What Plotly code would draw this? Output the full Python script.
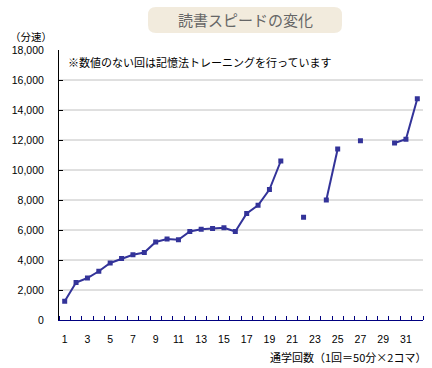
import plotly.graph_objects as go

sessions = list(range(1, 33))
speed = [1250, 2500, 2800, 3250, 3800, 4100, 4350, 4500, 5200, 5400,
         5350, 5900, 6050, 6100, 6150, 5900, 7100, 7650, 8700, 10600,
         None, 6850, None, 8000, 11400, None, 11950, None, None, 11800,
         12050, 14750]
y_ticks = list(range(0, 18001, 2000))
y_ticktext = ["0" if v == 0 else f"{v:,}" for v in y_ticks]
x_ticks = list(range(1, 32, 2))

W, H = 432, 368
L, R, T, B = 59, 9, 50, 48
pw, ph = W - L - R, H - T - B

def px(x):
    return (x - L) / pw

def py(y):
    return (H - B - y) / ph

fig = go.Figure()
fig.add_trace(go.Scatter(
    x=sessions, y=speed, mode="lines+markers", connectgaps=False,
    line=dict(color="#333399", width=2),
    marker=dict(symbol="square", size=5, color="#333399"),
    hoverinfo="x+y", showlegend=False))

shapes = []
for v in y_ticks[1:-1]:
    shapes.append(dict(type="line", xref="paper", yref="y", x0=0, x1=1, y0=v, y1=v,
                       line=dict(color="#c0c0c0", width=1), layer="below"))

# rounded title box
x0, x1, y0, y1 = 148, 342, 7, 33
r = 8
path = (f"M {px(x0 + r)},{py(y0)} L {px(x1 - r)},{py(y0)} Q {px(x1)},{py(y0)} {px(x1)},{py(y0 + r)} "
        f"L {px(x1)},{py(y1 - r)} Q {px(x1)},{py(y1)} {px(x1 - r)},{py(y1)} "
        f"L {px(x0 + r)},{py(y1)} Q {px(x0)},{py(y1)} {px(x0)},{py(y1 - r)} "
        f"L {px(x0)},{py(y0 + r)} Q {px(x0)},{py(y0)} {px(x0 + r)},{py(y0)} Z")
shapes.append(dict(type="path", xref="paper", yref="paper", path=path,
                   fillcolor="#f2ebdd", line=dict(width=0)))

font = "Noto Sans CJK JP"
annotations = [
    dict(text="読書スピードの変化", xref="paper", yref="paper", x=px(245), y=py(20),
         showarrow=False, font=dict(family=font, size=15, color="#666666"),
         xanchor="center", yanchor="middle"),
    dict(text="（分速）", xref="paper", yref="paper", x=px(8), y=py(36),
         showarrow=False, font=dict(family=font, size=10.5, color="#000000"),
         xanchor="left", yanchor="middle"),
    dict(text="※数値のない回は記憶法トレーニングを行っています", xref="paper", yref="paper",
         x=px(66), y=py(62), showarrow=False,
         font=dict(family=font, size=11, color="#000000"),
         xanchor="left", yanchor="middle"),
    dict(text="通学回数（1回＝50分×2コマ）", xref="paper", yref="paper",
         x=px(428), y=py(357), showarrow=False,
         font=dict(family=font, size=11, color="#000000"),
         xanchor="right", yanchor="middle"),
]

fig.update_layout(
    width=W, height=H, margin=dict(l=L, r=R, t=T, b=B),
    paper_bgcolor="white", plot_bgcolor="white",
    shapes=shapes, annotations=annotations,
    font=dict(family="Liberation Sans", size=10.5, color="#000000"),
    xaxis=dict(range=[0.5, 32.5], tickvals=x_ticks, ticktext=[str(v) for v in x_ticks],
               showgrid=False, zeroline=False, showline=True, linecolor="#000080",
               linewidth=1, ticks="", ticklen=0, ticklabelstandoff=9,
               minor=dict(tick0=0.5, dtick=1, ticks="inside", ticklen=4,
                          tickcolor="#000080", showgrid=False),
               fixedrange=True),
    yaxis=dict(range=[0, 18000], tickvals=y_ticks, ticktext=y_ticktext,
               showgrid=False, zeroline=False, showline=True, linecolor="#000000",
               linewidth=1, ticks="inside", ticklen=4, tickcolor="#000000",
               ticklabelstandoff=12, fixedrange=True),
)

fig.write_html("out.html", config={"displayModeBar": False},
               post_script="document.body.style.margin='0px';")
